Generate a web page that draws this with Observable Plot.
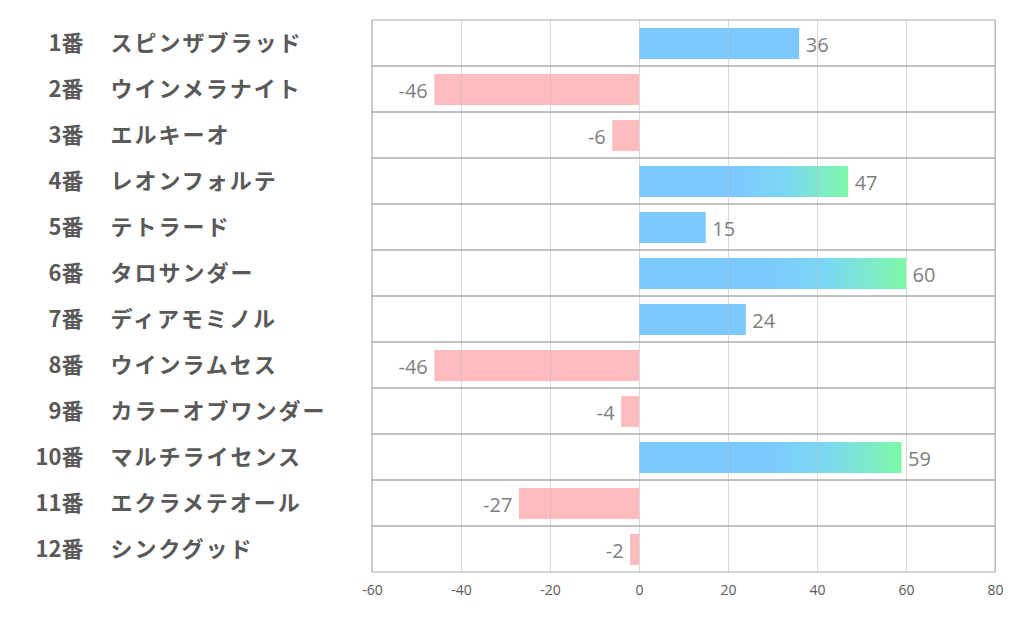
<!DOCTYPE html>
<html>
<head>
<meta charset="utf-8">
<script src="https://cdn.jsdelivr.net/npm/d3@7"></script>
<script src="https://cdn.jsdelivr.net/npm/@observablehq/plot@0.6"></script>
<style>
  html, body { margin: 0; padding: 0; background: #fff; }
  #chart { width: 1022px; height: 626px; }
</style>
</head>
<body>
<div id="chart"></div>
<script>
const numbers = ["1番","2番","3番","4番","5番","6番","7番","8番","9番","10番","11番","12番"];
const names = ["スピンザブラッド","ウインメラナイト","エルキーオ","レオンフォルテ","テトラード","タロサンダー","ディアモミノル","ウインラムセス","カラーオブワンダー","マルチライセンス","エクラメテオール","シンクグッド"];
const values = [36, -46, -6, 47, 15, 60, 24, -46, -4, 59, -27, -2];
const xTicks = [-60, -40, -20, 0, 20, 40, 60, 80];

const data = numbers.map((n, i) => ({key: n, num: n, name: names[i], value: values[i]}));
const xDomain = [xTicks[0], xTicks[xTicks.length - 1]];

const defsMark = () => {
  const defs = d3.create("svg:defs");
  const g = defs.append("linearGradient").attr("id", "bluegreen")
    .attr("x1", "0").attr("x2", "1").attr("y1", "0").attr("y2", "0");
  g.append("stop").attr("offset", "0.48").attr("stop-color", "#7cc9ff");
  g.append("stop").attr("offset", "0.72").attr("stop-color", "#7ad9f0");
  g.append("stop").attr("offset", "1").attr("stop-color", "#7ff8a8");
  return defs.node();
};

const fillFor = d => d.value < 0 ? "#ffbcbf" : (d.value > 40 ? "url(#bluegreen)" : "#7cc9ff");

const chart = Plot.plot({
  width: 1022,
  height: 626,
  marginTop: 20,
  marginBottom: 54,
  marginLeft: 372,
  marginRight: 27,
  style: {background: "#fff", overflow: "visible"},
  x: {domain: xDomain, ticks: xTicks, label: null},
  y: {domain: numbers, label: null, padding: 0, axis: null},
  marks: [
    defsMark,
    Plot.barX(data, {
      y: "key", x1: 0, x2: "value",
      fill: fillFor,
      insetTop: 8, insetBottom: 7
    }),
    Plot.gridX(xTicks, {stroke: "#bfbfbf", strokeOpacity: 0.6}),
    Plot.barX(data, {
      y: "key", x1: xDomain[0], x2: xDomain[1],
      fill: "none", stroke: "#ababab", strokeWidth: 1
    }),
    Plot.axisX(xTicks, {
      tickSize: 0, tickPadding: 13, fontSize: 14, fill: "#595959",
      fontFamily: "'Open Sans', 'Noto Sans', sans-serif",
      tickFormat: d => String(d)
    }),
    Plot.text(data, {
      y: "key", text: "num", frameAnchor: "left", textAnchor: "end", dx: -289,
      fontSize: 22, fontWeight: "bold", fill: "#595959",
      fontFamily: "'Noto Sans CJK JP', sans-serif"
    }),
    Plot.text(data, {
      y: "key", text: "name", frameAnchor: "left", textAnchor: "start", dx: -262,
      fontSize: 22, fontWeight: "bold", fill: "#595959",
      fontFamily: "'Noto Sans CJK JP', sans-serif"
    }),
    Plot.text(data.filter(d => d.value >= 0), {
      x: "value", y: "key", text: d => String(d.value), textAnchor: "start", dx: 6, dy: 2,
      fontSize: 20, fill: "#7f7f7f", fontFamily: "'Open Sans', 'Noto Sans', sans-serif"
    }),
    Plot.text(data.filter(d => d.value < 0), {
      x: "value", y: "key", text: d => String(d.value), textAnchor: "end", dx: -7, dy: 2,
      fontSize: 20, fill: "#7f7f7f", fontFamily: "'Open Sans', 'Noto Sans', sans-serif"
    })
  ]
});
d3.select(chart).selectAll("text")
  .filter(function() { return names.includes(this.textContent); })
  .style("letter-spacing", "2px");
document.getElementById("chart").appendChild(chart);
</script>
</body>
</html>
